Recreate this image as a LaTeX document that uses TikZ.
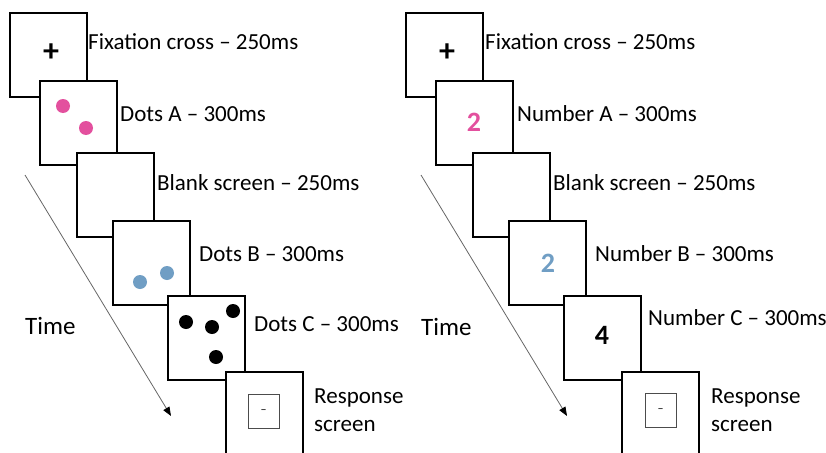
\documentclass[tikz,border=0pt]{standalone}
\usepackage{fontspec}
\setmainfont{Carlito}
\usetikzlibrary{arrows.meta}
\definecolor{dotpink}{RGB}{227,80,158}
\definecolor{dotblue}{RGB}{112,158,196}
\begin{document}
\begin{tikzpicture}[x=1pt,y=-1pt,
  screen/.style={draw=black,line width=2pt,fill=white,minimum width=77pt,minimum height=84pt,inner sep=0pt},
  lbl/.style={anchor=west,font=\fontsize{23}{26}\selectfont,inner sep=0pt},
  timelbl/.style={anchor=west,font=\fontsize{25}{28}\selectfont,inner sep=0pt},
  bignum/.style={font=\fontsize{28}{30}\selectfont\bfseries,inner sep=0pt},
  plussign/.style={font=\fontsize{32}{34}\selectfont\bfseries,inner sep=0pt},
  dashsign/.style={font=\fontsize{12}{14}\selectfont,inner sep=0pt},
  dot/.style={circle,inner sep=0pt,minimum size=14pt},
  respbox/.style={draw=black!70,line width=0.8pt,minimum width=31pt,minimum height=34pt,inner sep=0pt},
  timearrow/.style={draw=black!60,line width=0.8pt,-{Triangle[length=9pt,width=7pt,color=black]}}
]
\useasboundingbox (0,0) rectangle (826,452);
\clip (0,0) rectangle (826,452);
% ---------------- Left panel ----------------
\coordinate (lta) at (25,175);
\coordinate (ltb) at (171,416);
\draw[timearrow] (lta) -- (ltb);
\node[timelbl] (ltime) at (25,326) {Time};

\node[screen] (l1) at (48,55) {};
\node[plussign] (lplus) at (51,53) {+};
\node[lbl] (l1t) at (88,42) {Fixation cross – 250ms};

\node[screen] (l2) at (78.5,122.5) {};
\node[dot,fill=dotpink] (lpa) at (63,106) {};
\node[dot,fill=dotpink] (lpb) at (86,128) {};
\node[lbl] (l2t) at (120,114) {Dots A – 300ms};

\node[screen] (l3) at (115,195) {};
\node[lbl] (l3t) at (157,183) {Blank screen – 250ms};

\node[screen] (l4) at (151,263) {};
\node[dot,fill=dotblue] (lba) at (140,282) {};
\node[dot,fill=dotblue] (lbb) at (167,273) {};
\node[lbl] (l4t) at (199,254) {Dots B – 300ms};

\node[screen] (l5) at (206,338) {};
\node[dot,fill=black] (lca) at (186,322) {};
\node[dot,fill=black] (lcb) at (212,327) {};
\node[dot,fill=black] (lcc) at (233,311) {};
\node[dot,fill=black] (lcd) at (216,357) {};
\node[lbl] (l5t) at (254,324) {Dots C – 300ms};

\node[screen] (l6) at (264,414) {};
\node[respbox] (l6r) at (263.5,411) {};
\node[dashsign] (l6d) at (263.5,412) {–};
\node[lbl] (l6t) at (314,398) {Response};
\node[lbl] (l6s) at (314,426) {screen};

% ---------------- Right panel ----------------
\coordinate (rta) at (421,175);
\coordinate (rtb) at (567,416);
\draw[timearrow] (rta) -- (rtb);
\node[timelbl] (rtime) at (421,327) {Time};

\node[screen] (r1) at (444,55) {};
\node[plussign] (rplus) at (447,53) {+};
\node[lbl] (r1t) at (485,42) {Fixation cross – 250ms};

\node[screen] (r2) at (474.5,122.5) {};
\node[bignum,text=dotpink] (rna) at (474,122) {2};
\node[lbl] (r2t) at (517,114) {Number A – 300ms};

\node[screen] (r3) at (511,195) {};
\node[lbl] (r3t) at (553,183) {Blank screen – 250ms};

\node[screen] (r4) at (547,263) {};
\node[bignum,text=dotblue] (rnb) at (548,263) {2};
\node[lbl] (r4t) at (595,254) {Number B – 300ms};

\node[screen] (r5) at (602,338) {};
\node[bignum,text=black] (rnc) at (602,335) {4};
\node[lbl] (r5t) at (648,318) {Number C – 300ms};

\node[screen] (r6) at (660,414) {};
\node[respbox] (r6r) at (660.5,410) {};
\node[dashsign] (r6d) at (660.5,411) {–};
\node[lbl] (r6t) at (711,398) {Response};
\node[lbl] (r6s) at (711,426) {screen};
\end{tikzpicture}
\end{document}
